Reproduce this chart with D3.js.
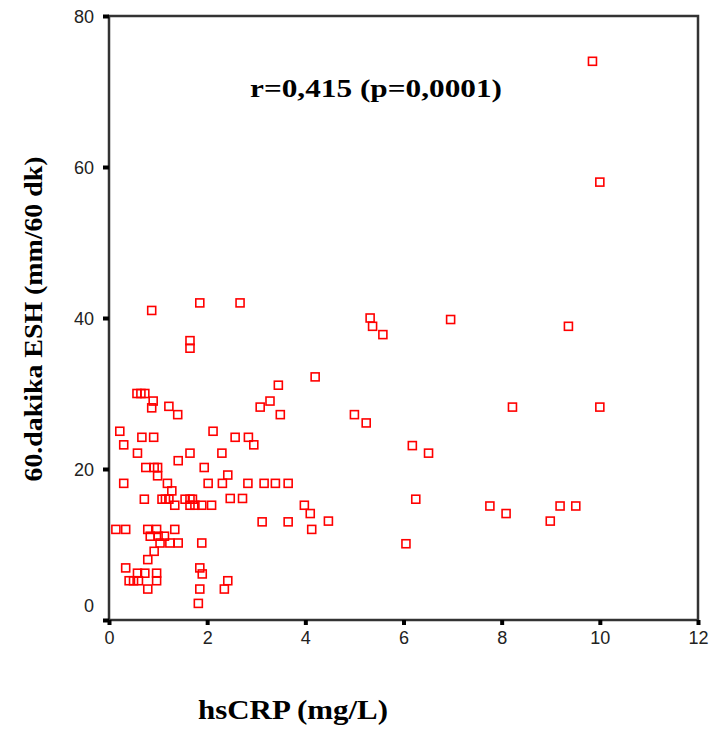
<!DOCTYPE html>
<html>
<head>
<meta charset="utf-8">
<script src="https://cdn.jsdelivr.net/npm/d3@7"></script>
<style>
  body { margin: 0; background: #fff; }
  svg { display: block; }
</style>
</head>
<body>
<svg id="chart" width="714" height="731"></svg>
<script>
// hsCRP (mg/L) values
var hsCRP = [
  9.85, 10.0, 0.87, 1.85, 2.67, 1.65, 1.65, 0.57, 0.65, 0.73,
  0.9, 0.87, 1.22, 1.4, 3.45, 3.28, 3.08, 3.49, 0.22, 2.12,
  0.67, 0.91, 2.57, 2.84, 0.3, 2.95, 0.58, 1.41, 1.65, 0.75,
  0.92, 0.99, 1.94, 0.3, 0.99, 1.19, 1.28, 2.02, 4.2, 2.3,
  2.42, 2.31, 2.83, 3.16, 3.39, 3.65, 2.47, 2.72, 0.72, 1.08,
  1.15, 1.22, 1.34, 1.55, 1.65, 1.70, 1.65, 1.75, 1.89, 2.09,
  0.14, 0.34, 0.79, 0.97, 1.34, 0.84, 1.0, 1.13, 1.04, 1.24,
  1.41, 1.89, 0.92, 0.79, 0.34, 0.41, 0.58, 0.6, 0.73, 0.5,
  0.97, 0.97, 0.79, 1.85, 1.9, 1.85, 1.82, 3.98, 4.1, 4.13,
  3.12, 3.65, 2.42, 2.35, 5.32, 5.37, 5.58, 6.96, 5.0, 5.24,
  6.18, 6.51, 6.25, 7.76, 4.47, 6.05, 9.36, 8.22, 10.0, 8.09,
  9.19, 9.51, 8.99
];
// 60.dakika ESH (mm/60 dk) values
var esh = [
  74, 58, 41, 42, 42, 37, 36, 30, 30, 30,
  29, 28.1, 28.3, 27.2, 31.1, 29, 28.2, 27.2, 25, 25,
  24.2, 24.2, 24.2, 24.2, 23.2, 23.2, 22.1, 21.1, 22.1, 20.2,
  20.2, 20.2, 20.2, 18.1, 19.1, 18.1, 17.1, 18.1, 32.2, 22.1,
  19.2, 18.1, 18.1, 18.1, 18.1, 18.1, 16.1, 16.1, 16, 16,
  16, 16, 15.2, 16, 16, 16, 15.2, 15.2, 15.2, 15.2,
  12, 12, 12, 12, 12, 11.1, 11.1, 11.1, 10.2, 10.2,
  10.2, 10.2, 9.1, 8, 6.9, 5.2, 6.2, 5.2, 6.2, 5.2,
  6.2, 5.2, 4.1, 6.9, 6.1, 4.1, 2.2, 15.2, 14.1, 12,
  13, 13, 5.2, 4.1, 40, 38.9, 37.8, 39.8, 27.2, 26.1,
  23.1, 22.1, 16, 15.1, 13.1, 10.1, 38.9, 28.2, 28.2, 14.1,
  15.1, 15.1, 13.1
];
var xTicks = [0, 2, 4, 6, 8, 10, 12];
var yTicks = [0, 20, 40, 60, 80];

var svg = d3.select("#chart");
var plotL = 109, plotR = 698, plotT = 16, plotB = 620;
var serif = "'Liberation Serif', 'Times New Roman', serif";
var sans = "Arial, 'Liberation Sans', sans-serif";

var x = d3.scaleLinear().domain([0, 12]).range([plotL, plotR]);
var y = d3.scaleLinear().domain([0, 80]).range([plotB, plotT]);

// frame
svg.append("rect")
  .attr("x", plotL).attr("y", plotT)
  .attr("width", plotR - plotL).attr("height", plotB - plotT)
  .attr("fill", "none").attr("stroke", "#333").attr("stroke-width", 2.5);

// y axis
var gy = svg.append("g")
  .attr("transform", "translate(" + plotL + ",0)")
  .call(d3.axisLeft(y).tickValues(yTicks).tickSize(6).tickPadding(9));
gy.select(".domain").remove();
gy.selectAll(".tick line").attr("stroke", "#000").attr("stroke-width", 4);
gy.selectAll(".tick text")
  .attr("font-family", sans)
  .attr("font-size", 18).attr("fill", "#222")
  .attr("dy", function(d) { return d === 0 ? "-0.5em" : "0.34em"; });

// x axis
var gx = svg.append("g")
  .attr("transform", "translate(0," + plotB + ")")
  .call(d3.axisBottom(x).tickValues(xTicks).tickSize(5).tickPadding(6));
gx.select(".domain").remove();
gx.selectAll(".tick line").attr("stroke", "#000").attr("stroke-width", 4);
gx.selectAll(".tick text")
  .attr("font-family", sans)
  .attr("font-size", 18).attr("fill", "#222");

// points
var data = d3.zip(hsCRP, esh);
svg.append("g").selectAll("rect")
  .data(data).enter().append("rect")
  .attr("x", function(d) { return x(d[0]) - 4; })
  .attr("y", function(d) { return y(d[1]) - 4; })
  .attr("width", 8).attr("height", 8)
  .attr("fill", "none").attr("stroke", "#ff0000").attr("stroke-width", 1.6);

// texts (the reference glyphs are a bit stretched, so fix their length)
svg.append("text")
  .attr("x", 376).attr("y", 97)
  .attr("text-anchor", "middle")
  .attr("font-family", serif)
  .attr("font-weight", "bold").attr("font-size", 26)
  .attr("textLength", 252).attr("lengthAdjust", "spacingAndGlyphs")
  .text("r=0,415 (p=0,0001)");

svg.append("text")
  .attr("x", 293).attr("y", 719)
  .attr("text-anchor", "middle")
  .attr("font-family", serif)
  .attr("font-weight", "bold").attr("font-size", 27)
  .attr("textLength", 190).attr("lengthAdjust", "spacingAndGlyphs")
  .text("hsCRP (mg/L)");

svg.append("text")
  .attr("transform", "translate(42,319) rotate(-90)")
  .attr("text-anchor", "middle")
  .attr("font-family", serif)
  .attr("font-weight", "bold").attr("font-size", 26)
  .attr("textLength", 325).attr("lengthAdjust", "spacingAndGlyphs")
  .text("60.dakika ESH (mm/60 dk)");
</script>
</body>
</html>
